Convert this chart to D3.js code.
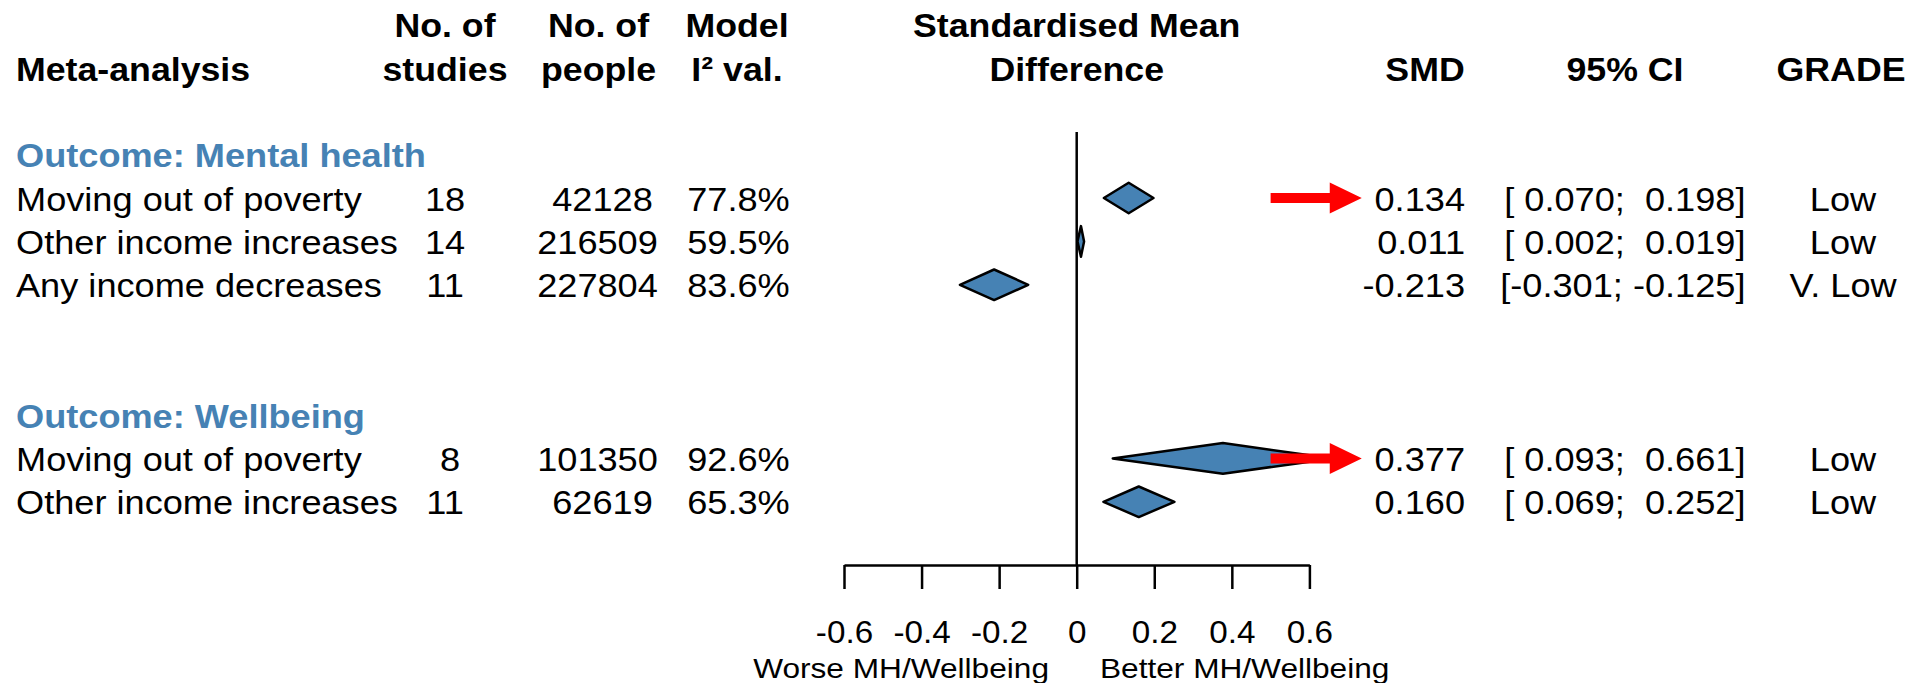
<!DOCTYPE html>
<html>
<head>
<meta charset="utf-8">
<script src="https://cdn.jsdelivr.net/npm/d3@7"></script>
<style>
  html, body { margin: 0; padding: 0; background: #fff; }
  svg { display: block; }
  text { font-family: "Liberation Sans", Arial, Helvetica, sans-serif; white-space: pre; }
</style>
</head>
<body>
<svg id="chart" width="1911" height="683"></svg>
<script>
// ---- Subgroup headings -------------------------------------------------
const groups = ["Outcome: Mental health", "Outcome: Wellbeing"];
const groupRow = [-1, 5];

// ---- Pooled meta-analyses ---------------------------------------------
const analyses = [
  "Moving out of poverty",
  "Other income increases",
  "Any income decreases",
  "Moving out of poverty",
  "Other income increases"
];
const analysisRow = [0, 1, 2, 6, 7];
const nStudies = [18, 14, 11, 8, 11];
const nPeople = [42128, 216509, 227804, 101350, 62619];
const i2 = [77.8, 59.5, 83.6, 92.6, 65.3];
const smd = [0.134, 0.011, -0.213, 0.377, 0.160];
const ciLower = [0.070, 0.002, -0.301, 0.093, 0.069];
const ciUpper = [0.198, 0.019, -0.125, 0.661, 0.252];
const grade = ["Low", "Low", "V. Low", "Low", "Low"];
const highlighted = [true, false, false, true, false];

// ---- Axis ---------------------------------------------------------------
const xTicks = [-0.6, -0.4, -0.2, 0, 0.2, 0.4, 0.6];
const xLabelLeft = "Worse MH/Wellbeing";
const xLabelRight = "Better MH/Wellbeing";
const arrowSpan = [0.5, 0.735];

// ---- Column headings ----------------------------------------------------
const colHeads = [
  { lines: ["Meta-analysis"], key: "name" },
  { lines: ["No. of", "studies"], key: "studies" },
  { lines: ["No. of", "people"], key: "people" },
  { lines: ["Model", "I\u00B2 val."], key: "i2" },
  { lines: ["Standardised Mean", "Difference"], key: "plot" },
  { lines: ["SMD"], key: "smd" },
  { lines: ["95% CI"], key: "ci" },
  { lines: ["GRADE"], key: "grade" }
];

const svg = d3.select("#chart");

const x = d3.scaleLinear().domain([-0.6, 0.6]).range([844, 1309.4]);
const y = d3.scaleLinear().domain([0, 7]).range([198, 501.8]);

const BLUE = "#4682B4";
const BODY = 34, BODY_SX = 1.064;

function addText(g, px, py, str, o = {}) {
  return g.append("text")
    .attr("transform", `translate(${px},${py}) scale(${o.sx || BODY_SX},1)`)
    .attr("text-anchor", o.anchor || "start")
    .attr("font-size", o.size || BODY)
    .attr("font-weight", o.bold ? "bold" : "normal")
    .attr("fill", o.fill || "#000")
    .attr("xml:space", "preserve")
    .text(str);
}

// column anchor positions
const col = {
  name:    { x: 16,     anchor: "start" },
  studies: { x: 445,    anchor: "middle" },
  people:  { x: 597.5,  anchor: "middle" },
  i2:      { x: 738.5,  anchor: "middle" },
  smd:     { x: 1465,   anchor: "end" },
  ci:      { x: 1745.5, anchor: "end" },
  grade:   { x: 1843,   anchor: "middle" }
};
const headPos = {
  name: 16, studies: 445, people: 598.5, i2: 737, plot: x(0),
  smd: 1425, ci: 1625, grade: 1841
};

// ---- headings
const head = svg.append("g").attr("class", "headings");
const headBase = [37.3, 80.7];
colHeads.forEach(h => {
  const n = h.lines.length;
  h.lines.forEach((ln, i) => {
    addText(head, headPos[h.key], headBase[2 - n + i], ln, {
      bold: true, sx: 1.05, anchor: h.key === "name" ? "start" : "middle"
    });
  });
});

// ---- subgroup headings
const gh = svg.append("g").attr("class", "groups");
groups.forEach((g, i) => {
  addText(gh, col.name.x, y(groupRow[i]) + 12.5, g, { bold: true, fill: BLUE });
});

// ---- table rows
const pad = (s, w) => String(s).padStart(w, " ");
const f3 = v => v.toFixed(3);
const rows = svg.append("g").attr("class", "rows");
analyses.forEach((name, i) => {
  const by = y(analysisRow[i]) + 12.5;
  const cells = {
    name: name,
    studies: pad(nStudies[i], 2),
    people: pad(nPeople[i], 6),
    i2: i2[i].toFixed(1) + "%",
    smd: pad(f3(smd[i]), 6),
    ci: "[" + pad(f3(ciLower[i]), 6) + "; " + pad(f3(ciUpper[i]), 6) + "]",
    grade: grade[i]
  };
  Object.keys(cells).forEach(k => {
    addText(rows, col[k].x, by, cells[k], { anchor: col[k].anchor });
  });
});

// ---- zero line
svg.append("line")
  .attr("x1", x(0)).attr("x2", x(0))
  .attr("y1", 132).attr("y2", 565)
  .attr("stroke", "#000").attr("stroke-width", 2.5);

// ---- pooled-effect diamonds
const H = 15.3;
svg.append("g").attr("class", "diamonds")
  .selectAll("polygon")
  .data(smd.map((d, i) => i))
  .join("polygon")
  .attr("points", i => {
    const cy = y(analysisRow[i]);
    return [
      [x(ciLower[i]), cy],
      [x(smd[i]), cy - H],
      [x(ciUpper[i]), cy],
      [x(smd[i]), cy + H]
    ].map(p => p.join(",")).join(" ");
  })
  .attr("fill", BLUE)
  .attr("stroke", "#000")
  .attr("stroke-width", 2.5)
  .attr("stroke-linejoin", "round");

// ---- highlight arrows
const HEAD_LEN = 32, SHAFT = 5, HEAD_H = 15.5;
svg.append("g").attr("class", "arrows")
  .selectAll("polygon")
  .data(highlighted.map((h, i) => h ? i : -1).filter(i => i >= 0))
  .join("polygon")
  .attr("points", i => {
    const cy = y(analysisRow[i]);
    const x0 = x(arrowSpan[0]), x2 = x(arrowSpan[1]), x1 = x2 - HEAD_LEN;
    return [
      [x0, cy - SHAFT], [x1, cy - SHAFT], [x1, cy - HEAD_H], [x2, cy],
      [x1, cy + HEAD_H], [x1, cy + SHAFT], [x0, cy + SHAFT]
    ].map(p => p.join(",")).join(" ");
  })
  .attr("fill", "#FF0000");

// ---- x axis
const axisY = 565;
const fmtTick = d => (Math.round(d * 10) / 10).toString();
const ax = svg.append("g")
  .attr("transform", `translate(0,${axisY})`)
  .call(d3.axisBottom(x).tickValues(xTicks).tickSize(24).tickSizeOuter(0).tickFormat(fmtTick));
ax.attr("font-family", null).attr("font-size", null);
ax.select(".domain").attr("stroke-width", 2.5);
ax.selectAll(".tick line").attr("stroke-width", 2.5);
ax.selectAll(".tick text")
  .attr("y", null).attr("dy", null)
  .attr("transform", "translate(0,78.3) scale(1.09,1)")
  .attr("font-size", 30.5)
  .attr("fill", "#000");

const lab = svg.append("g").attr("class", "x-labels");
addText(lab, 1049, 678.3, xLabelLeft, { anchor: "end", size: 28, sx: 1.13 });
addText(lab, 1100, 678.3, xLabelRight, { anchor: "start", size: 28, sx: 1.13 });
</script>
</body>
</html>
